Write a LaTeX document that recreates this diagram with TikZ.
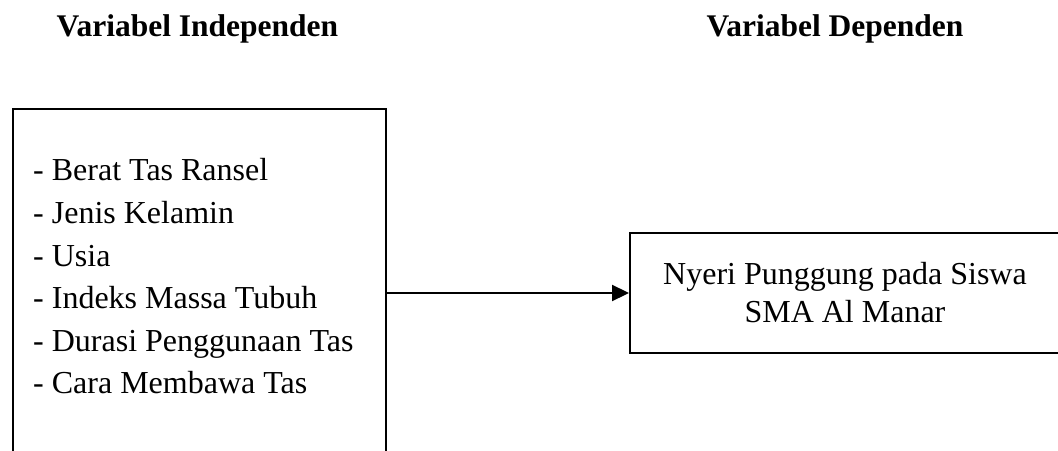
\documentclass[tikz,border=0pt]{standalone}
\usepackage{fontspec}
\setmainfont{Liberation Serif}
\usetikzlibrary{arrows.meta}
\begin{document}
\begin{tikzpicture}[x=1pt,y=-1pt,
  every node/.style={font=\fontsize{32}{42.6}\selectfont},
  title/.style={font=\fontsize{31.5}{38}\selectfont\bfseries, anchor=base, inner sep=0pt},
  frame/.style={draw, line width=1.9pt, inner sep=0pt},
  conn/.style={line width=1.9pt, -{Triangle[length=17pt,width=16pt]}}]
\useasboundingbox (0,0) rectangle (1058,450);
\clip (0,0) rectangle (1058,450);
\node[title] (t1) at (197.5,36) {Variabel Independen};
\node[title] (t2) at (835,36) {Variabel Dependen};
\node[frame, anchor=north west, minimum width=373pt, minimum height=370pt] (indep) at (12,108) {};
\node[anchor=north west, align=left, inner sep=0pt] (list) at (33,158.5) {- Berat Tas Ransel\\- Jenis Kelamin\\- Usia\\- Indeks Massa Tubuh\\- Durasi Penggunaan Tas\\- Cara Membawa Tas};
\node[frame, minimum width=430pt, minimum height=120pt, align=center,
  font=\fontsize{32}{38}\selectfont] (dep) at (845,293) {Nyeri Punggung pada Siswa\\SMA Al Manar};
\draw[conn] (indep.east |- dep.west) -- (dep.west);
\end{tikzpicture}
\end{document}
